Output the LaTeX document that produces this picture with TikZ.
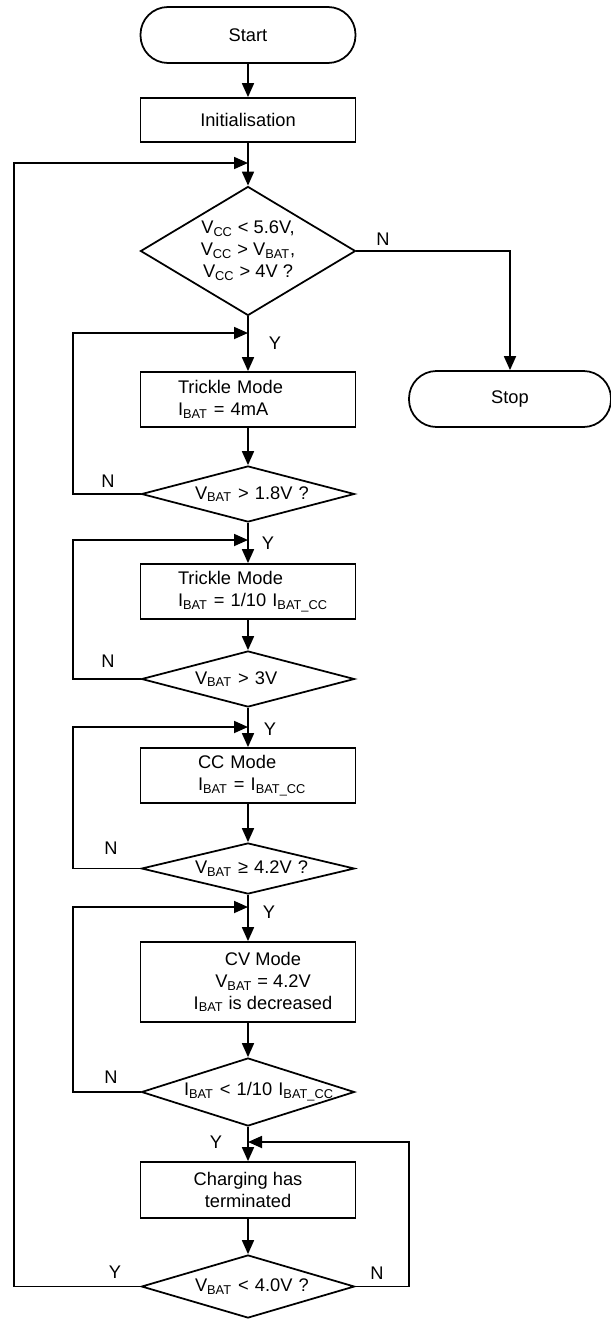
\documentclass[tikz,border=0pt]{standalone}
\usepackage{fontspec}
\setmainfont{Liberation Sans}
\usepackage{tikz}
\usetikzlibrary{shapes.geometric, arrows.meta, positioning, calc}

\newcommand{\Vcc}{V\textsubscript{CC}}
\newcommand{\Vbat}{V\textsubscript{BAT}}
\newcommand{\Ibat}{I\textsubscript{BAT}}
\newcommand{\Ibatcc}{I\textsubscript{BAT\_CC}}

\begin{document}
\begin{tikzpicture}[
    >={Triangle[length=0.28cm, width=0.24cm]},
    line width=1pt,
    font=\fontsize{10.4}{12.5}\selectfont,
    terminal/.style={draw, rectangle, rounded corners=0.55cm,
        minimum width=4.30cm, minimum height=1.12cm},
    process/.style={draw, rectangle, inner sep=0pt, minimum width=4.30cm},
    decision/.style={draw, diamond, inner sep=0pt, aspect=3.8,
        minimum width=4.26cm, text width=2.12cm, align=left},
    tag/.style={inner sep=0pt}
]
    \useasboundingbox (0,0) rectangle (12.22,-26.38);

    % Start and set-up
    \node[terminal] (start) at (4.96,-0.70) {Start};
    \node[process, minimum height=0.88cm] (init) at (4.96,-2.40) {Initialisation};

    % Supply check
    \node[decision, aspect=1.67, minimum width=4.30cm, minimum height=2.58cm,
          text width=, align=center] (check) at (4.96,-5.02)
        {\Vcc{}~<~5.6V,\\ \Vcc{}~>~\Vbat,\\ \Vcc{}~>~4V~?};
    \node[terminal, minimum width=4.04cm] (stop) at (10.20,-7.98) {Stop};

    % Trickle mode, fixed current
    \node[process, minimum height=1.10cm, text width=2.80cm, align=left]
        (trickleA) at (4.96,-7.99) {Trickle~Mode\\ \Ibat{}~=~4mA};
    \node[decision, minimum height=1.12cm] (testA) at (4.96,-9.88)
        {\Vbat{}~>~1.8V~?};

    % Trickle mode, 1/10 of CC
    \node[process, minimum height=1.10cm, text width=2.80cm, align=left]
        (trickleB) at (4.96,-11.83) {Trickle~Mode\\ \Ibat{}~=~1/10~\Ibatcc};
    \node[decision, minimum height=1.12cm] (testB) at (4.96,-13.58)
        {\Vbat{}~>~3V};

    % CC mode
    \node[process, minimum height=1.10cm, text width=2.0cm, align=left]
        (ccmode) at (4.96,-15.51) {CC~Mode\\ \Ibat{}~=~\Ibatcc};
    \node[decision, minimum height=1.02cm] (testC) at (4.96,-17.37)
        {\Vbat{}~≥~4.2V~?};

    % CV mode
    \node[process, minimum height=1.60cm,
          label={[align=center, xshift=0.30cm]center:{CV Mode\\
              \Vbat{} = 4.2V\\ \Ibat{} is decreased}}]
        (cvmode) at (4.96,-19.64) {};
    \node[decision, aspect=3.2, minimum height=1.36cm, text width=2.56cm]
        (testD) at (4.96,-21.84) {\Ibat{}~<~1/10~\Ibatcc};

    % Termination
    \node[process, minimum height=1.12cm, align=center] (done) at (4.96,-23.80)
        {Charging has\\ terminated};
    \node[decision, minimum height=1.26cm] (testE) at (4.96,-25.73)
        {\Vbat{}~<~4.0V~?};

    % Junctions on the spine, loop columns
    \coordinate (j1) at (4.96,-3.26);
    \coordinate (j2) at (4.96,-6.66);
    \coordinate (j3) at (4.96,-10.80);
    \coordinate (j4) at (4.96,-14.54);
    \coordinate (j5) at (4.96,-18.14);
    \coordinate (j6) at (4.96,-22.84);
    \coordinate (outer) at (0.28,0);
    \coordinate (inner) at (1.46,0);
    \coordinate (side) at (8.18,0);

    % Spine
    \draw[->] (start.south) -- (init.north);
    \draw[->] (init.south) -- (check.north);
    \draw[->] (check.south) -- (trickleA.north);
    \draw[->] (trickleA.south) -- (testA.north);
    \draw[->] (testA.south) -- (trickleB.north);
    \draw[->] (trickleB.south) -- (testB.north);
    \draw[->] (testB.south) -- (ccmode.north);
    \draw[->] (ccmode.south) -- (testC.north);
    \draw[->] (testC.south) -- (cvmode.north);
    \draw[->] (cvmode.south) -- (testD.north);
    \draw[->] (testD.south) -- (done.north);
    \draw[->] (done.south) -- (testE.north);

    % Branches
    \draw[->] (check.east) -| (stop.north);
    \draw[->] (testA.west) -- (testA.west -| inner) |- (j2);
    \draw[->] (testB.west) -- (testB.west -| inner) |- (j3);
    \draw[->] (testC.west) -- (testC.west -| inner) |- (j4);
    \draw[->] (testD.west) -- (testD.west -| inner) |- (j5);
    \draw[->] (testE.west) -- (testE.west -| outer) |- (j1);
    \draw[->] (testE.east) -- (testE.east -| side) |- (j6);

    % Y / N marks
    \node[tag] (no0) at (7.66,-4.78) {N};
    \node[tag] (yes0) at (5.50,-6.86) {Y};
    \node[tag] (no1) at (2.16,-9.62) {N};
    \node[tag] (yes1) at (5.36,-10.86) {Y};
    \node[tag] (no2) at (2.16,-13.22) {N};
    \node[tag] (yes2) at (5.40,-14.58) {Y};
    \node[tag] (no3) at (2.22,-16.96) {N};
    \node[tag] (yes3) at (5.38,-18.24) {Y};
    \node[tag] (no4) at (2.22,-21.54) {N};
    \node[tag] (yes4) at (4.32,-22.84) {Y};
    \node[tag] (yes5) at (2.30,-25.44) {Y};
    \node[tag] (no5) at (7.54,-25.46) {N};
\end{tikzpicture}
\end{document}
